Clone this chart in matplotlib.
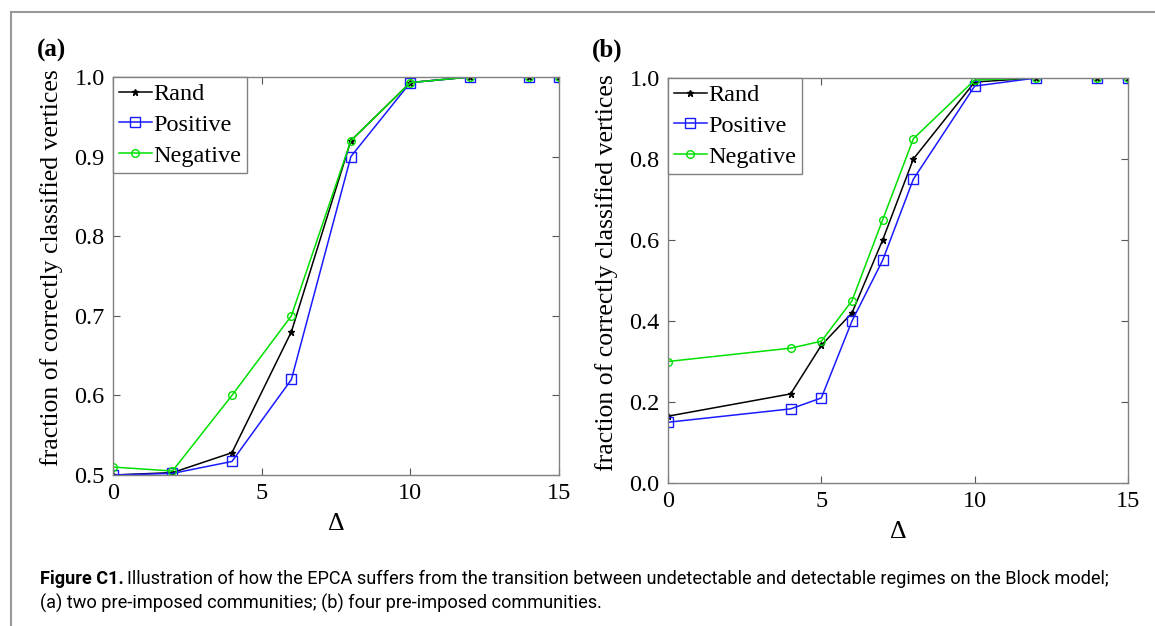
import matplotlib
matplotlib.use("Agg")
import matplotlib.pyplot as plt
from matplotlib.lines import Line2D

# Panel (a): two pre-imposed communities
xa = [0, 2, 4, 6, 8, 10, 12, 14, 15]
a_rand = [0.500, 0.503, 0.528, 0.680, 0.920, 0.993, 1.0, 1.0, 1.0]
a_pos = [0.500, 0.502, 0.517, 0.620, 0.900, 0.993, 1.0, 1.0, 1.0]
a_neg = [0.510, 0.505, 0.600, 0.700, 0.920, 0.993, 1.0, 1.0, 1.0]

# Panel (b): four pre-imposed communities
xb = [0, 4, 5, 6, 7, 8, 10, 12, 14, 15]
b_rand = [0.165, 0.220, 0.340, 0.420, 0.600, 0.800, 0.990, 1.0, 1.0, 1.0]
b_pos = [0.150, 0.183, 0.210, 0.400, 0.550, 0.750, 0.980, 1.0, 1.0, 1.0]
b_neg = [0.300, 0.333, 0.350, 0.450, 0.650, 0.850, 0.995, 1.0, 1.0, 1.0]

series_names = ["Rand", "Positive", "Negative"]
xticks = [0, 5, 10, 15]
a_yticks = [0.5, 0.6, 0.7, 0.8, 0.9, 1.0]
b_yticks = [0.0, 0.2, 0.4, 0.6, 0.8, 1.0]

W, H = 1155, 626
fig = plt.figure(figsize=(W / 100, H / 100), dpi=100)
serif = "Liberation Serif"
FS = 17.5

def ax_rect(l, t, r, b):
    return [l / W, 1 - b / H, (r - l) / W, (b - t) / H]

styles = [
    dict(color="black", marker="*", ms=5, mfc="black", mec="black"),
    dict(color="#1a1aff", marker="s", ms=6.5, mfc="none", mec="#1a1aff"),
    dict(color="#00e000", marker="o", ms=5.5, mfc="none", mec="#00e000"),
]

def panel(rect, x, ys, yticks, ylim, label, lx, ly):
    ax = fig.add_axes(ax_rect(*rect))
    for y, st, name in zip(ys, styles, series_names):
        ax.plot(x, y, lw=1.1, label=name, mew=1.0, **st)
    ax.set_xlim(0, 15)
    ax.set_ylim(*ylim)
    ax.set_xticks(xticks)
    ax.set_yticks(yticks)
    ax.set_xticklabels([str(t) for t in xticks], fontfamily=serif, fontsize=FS)
    ax.set_yticklabels([f"{t:.1f}" for t in yticks], fontfamily=serif, fontsize=FS)
    ax.tick_params(direction="in", top=True, right=True, length=5, color="#555555")
    ax.tick_params(axis="y", pad=6)
    ax.tick_params(axis="x", pad=6)
    for s in ax.spines.values():
        s.set_color("#808080")
        s.set_linewidth(1.0)
    ax.set_xlabel("Δ", fontfamily=serif, fontsize=FS + 1, labelpad=6)
    ax.set_ylabel("fraction of correctly classified vertices", fontfamily=serif, fontsize=18.5,
                  labelpad=8)
    ax.yaxis.label.set_y(0.52)
    leg = ax.legend(loc="upper left", prop={"family": serif, "size": FS}, fancybox=False,
                    framealpha=1, edgecolor="#808080", borderaxespad=0, handlelength=1.35,
                    handletextpad=0.05, borderpad=0.25, labelspacing=0.36)
    leg.get_frame().set_linewidth(1.0)
    fig.text(lx / W, 1 - ly / H, label, fontfamily=serif, fontweight="bold", fontsize=18,
             ha="left", va="center")
    return ax

panel((113, 77, 559, 475), xa, [a_rand, a_pos, a_neg], a_yticks, (0.5, 1.0), "(a)", 37, 50)
panel((668, 78, 1128, 483), xb, [b_rand, b_pos, b_neg], b_yticks, (0.0, 1.0), "(b)", 592, 50)

# frame lines (top and left)
fig.add_artist(Line2D([11 / W, 1], [1 - 12 / H, 1 - 12 / H], color="#999999", lw=1.5))
fig.add_artist(Line2D([11 / W, 11 / W], [0, 1 - 12 / H], color="#999999", lw=1.5))

cap_font = "Roboto"
cap_size = 13.1
t1 = fig.text(40 / W, 1 - 579 / H, "Figure C1.", fontfamily=cap_font, fontweight="bold",
              fontsize=cap_size, ha="left", va="center")
fig.canvas.draw()
bb = t1.get_window_extent()
fig.text((bb.x1 + 3) / W, 1 - 579 / H,
         "Illustration of how the EPCA suffers from the transition between undetectable and detectable regimes on the Block model;",
         fontfamily=cap_font, fontsize=cap_size, ha="left", va="center")
fig.text(40 / W, 1 - 603 / H, "(a) two pre-imposed communities; (b) four pre-imposed communities.",
         fontfamily=cap_font, fontsize=cap_size, ha="left", va="center")

fig.savefig("out.png", dpi=100)
